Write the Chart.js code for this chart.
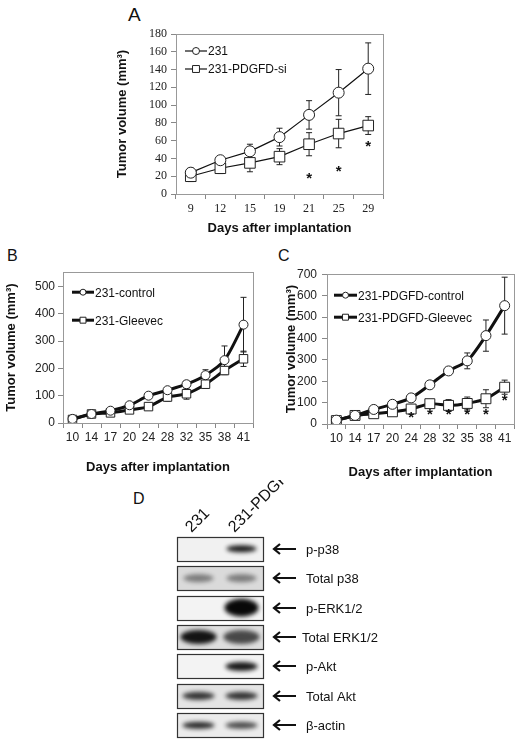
<!DOCTYPE html>
<html>
<head>
<meta charset="utf-8">
<script src="https://cdn.jsdelivr.net/npm/chart.js@4.4.1/dist/chart.umd.min.js"></script>
<style>
  body { margin: 0; background: #fff; }
  #wrap { position: relative; width: 522px; height: 745px; overflow: hidden; font-family: 'Liberation Sans', Arial, sans-serif; }
  canvas { position: absolute; }
  .lbl { position: absolute; line-height: 1; color: #111; }
</style>
</head>
<body>
<div id="wrap">
  <div class="lbl" style="left:128px;top:5px;font-size:19px">A</div>
  <div class="lbl" style="left:7px;top:248px;font-size:16px">B</div>
  <div class="lbl" style="left:278px;top:248px;font-size:16px">C</div>
  <div class="lbl" style="left:133px;top:491px;font-size:16px">D</div>
  <canvas id="chartA" width="300" height="225" style="left:95px;top:20px"></canvas>
  <canvas id="chartB" width="262" height="218" style="left:0px;top:262px"></canvas>
  <canvas id="chartC" width="260" height="218" style="left:262px;top:262px"></canvas>
  <canvas id="chartD" width="300" height="265" style="left:170px;top:480px"></canvas>
</div>
<script>
// ---- panel A ----
const daysA = ['9', '12', '15', '19', '21', '25', '29'];
const volA231 = [24, 38, 48, 64, 89, 114, 141];
const errA231 = [5, 4, 8, 10, 16, 26, 29];
const volASi = [20, 29, 35, 42, 56, 68, 77];
const errASi = [6, 6, 10, 9, 13, 16, 10];
const starsA = [['21', 20], ['25', 28], ['29', 56]];

// ---- panels B and C ----
const daysBC = ['10', '14', '17', '20', '24', '28', '32', '35', '38', '41'];
const volBControl = [15, 33, 45, 65, 100, 120, 142, 175, 230, 360];
const errBControl = [5, 6, 8, 8, 8, 10, 12, 20, 52, 100];
const volBGleevec = [13, 33, 37, 48, 60, 95, 107, 142, 192, 235];
const errBGleevec = [5, 5, 8, 10, 6, 15, 20, 15, 15, 28];

const volCControl = [18, 40, 68, 92, 122, 183, 248, 295, 413, 553];
const errCControl = [5, 6, 8, 8, 8, 10, 10, 37, 73, 133];
const volCGleevec = [16, 40, 48, 57, 70, 95, 87, 96, 118, 172];
const errCGleevec = [5, 5, 8, 10, 12, 12, 27, 30, 42, 33];
const starsC = [['24', 42], ['28', 55], ['32', 55], ['35', 55], ['38', 55], ['41', 120]];

// ---- panel D (western blot, relative band intensity 0..1) ----
const blotRows = ['p-p38', 'Total p38', 'p-ERK1/2', 'Total ERK1/2', 'p-Akt', 'Total Akt', 'β-actin'];
const laneLabels = ['231', '231-PDGFD'];
const band231 = [0, 0.45, 0, 0.95, 0, 0.8, 0.85];
const bandPDGFD = [0.92, 0.45, 1.0, 0.7, 0.92, 0.8, 0.7];

const sans = "'Liberation Sans', Arial, sans-serif";

// error bars drawn under the markers
const errorBars = {
  id: 'errorBars',
  beforeDatasetsDraw(chart, args, opts) {
    const {ctx} = chart;
    const y = chart.scales.y;
    chart.data.datasets.forEach((ds, i) => {
      if (!ds.err) return;
      const meta = chart.getDatasetMeta(i);
      ctx.save();
      ctx.strokeStyle = opts.color || '#222';
      ctx.lineWidth = opts.width || 1;
      meta.data.forEach((pt, j) => {
        const v = ds.data[j], e = ds.err[j];
        const y1 = y.getPixelForValue(v + e);
        const y2 = y.getPixelForValue(Math.max(v - e, 0));
        const c = opts.cap || 3;
        ctx.beginPath();
        ctx.moveTo(pt.x, y1); ctx.lineTo(pt.x, y2);
        ctx.moveTo(pt.x - c, y1); ctx.lineTo(pt.x + c, y1);
        ctx.moveTo(pt.x - c, y2); ctx.lineTo(pt.x + c, y2);
        ctx.stroke();
      });
      ctx.restore();
    });
  }
};

// plot frame
const frame = {
  id: 'frame',
  beforeDatasetsDraw(chart, args, opts) {
    const {ctx, chartArea: a} = chart;
    ctx.save();
    ctx.strokeStyle = opts.color || '#999';
    ctx.lineWidth = 1;
    ctx.strokeRect(Math.round(a.left) + 0.5, Math.round(a.top) + 0.5,
      Math.round(a.right - a.left), Math.round(a.bottom - a.top));
    ctx.restore();
  }
};

// significance asterisks
const stars = {
  id: 'stars',
  afterDatasetsDraw(chart, args, opts) {
    if (!opts.points) return;
    const {ctx} = chart;
    const x = chart.scales.x, y = chart.scales.y;
    ctx.save();
    ctx.fillStyle = '#111';
    ctx.font = opts.font || 'bold 15px ' + sans;
    ctx.textAlign = 'center';
    ctx.textBaseline = 'middle';
    opts.points.forEach(([lab, v]) => {
      ctx.fillText('*', x.getPixelForValue(lab), y.getPixelForValue(v) + 3);
    });
    ctx.restore();
  }
};

// legend drawn inside the plot
const inLegend = {
  id: 'inLegend',
  afterDraw(chart, args, opts) {
    const {ctx, chartArea: a} = chart;
    ctx.save();
    chart.data.datasets.forEach((ds, i) => {
      const yy = a.top + opts.y + i * opts.dy;
      const x0 = a.left + opts.x;
      ctx.strokeStyle = ds.borderColor;
      ctx.lineWidth = ds.borderWidth;
      ctx.beginPath(); ctx.moveTo(x0, yy); ctx.lineTo(x0 + opts.len, yy); ctx.stroke();
      ctx.fillStyle = '#fff';
      ctx.strokeStyle = ds.pointBorderColor;
      ctx.lineWidth = 1;
      Chart.helpers.drawPoint(ctx, {pointStyle: ds.pointStyle, rotation: 0,
        radius: ds.pointStyle === 'rect' ? opts.r * 1.4 : opts.r, borderWidth: 1}, x0 + opts.len / 2, yy);
      ctx.fillStyle = '#111';
      ctx.font = opts.font;
      ctx.textBaseline = 'middle';
      ctx.fillText(ds.label, x0 + opts.len + 1, yy + 1);
    });
    ctx.restore();
  }
};

function series(label, data, err, style, r, lw, tension) {
  return {
    label, data, err,
    borderColor: '#111', borderWidth: lw, tension,
    pointStyle: style, pointRadius: r, pointBackgroundColor: '#fff',
    pointBorderColor: '#222', pointBorderWidth: 1
  };
}

function growthChart(id, cfg) {
  return new Chart(document.getElementById(id), {
    type: 'line',
    data: {labels: cfg.labels, datasets: cfg.datasets},
    plugins: [frame, errorBars, stars, inLegend],
    options: {
      responsive: false, animation: false, devicePixelRatio: 1,
      layout: {padding: cfg.pad},
      plugins: {
        legend: {display: false}, tooltip: {enabled: false},
        errorBars: {color: '#222', width: 1, cap: cfg.cap},
        stars: {points: cfg.stars},
        inLegend: cfg.legend
      },
      scales: {
        x: {
          offset: true,
          grid: {offset: true, drawOnChartArea: false, tickLength: 5, color: '#888'},
          border: {color: '#888'},
          ticks: {font: cfg.tickFont, color: '#222', padding: cfg.xTickPad, maxRotation: 0, autoSkip: false},
          title: {display: true, text: 'Days after implantation', color: '#111',
            font: {family: sans, size: 13, weight: 'bold'}, padding: {top: 0, bottom: cfg.xTitlePad}},
          afterFit(s) { s.height = cfg.xH; }
        },
        y: {
          min: 0, max: cfg.yMax,
          grid: {drawOnChartArea: false, tickLength: 5, color: '#888'},
          border: {color: '#888'},
          ticks: {stepSize: cfg.step, font: cfg.tickFont, color: '#222', padding: cfg.yTickPad},
          afterBuildTicks(s) { s.ticks = s.ticks.filter(t => t.value % cfg.step === 0); },
          title: {display: true, text: 'Tumor volume (mm³)', color: '#111',
            font: {family: sans, size: 13, weight: 'bold'}, padding: {top: cfg.yTitlePad, bottom: 0}},
          afterFit(s) { s.width = cfg.yW; }
        }
      }
    }
  });
}

growthChart('chartA', {
  labels: daysA,
  datasets: [
    series('231', volA231, errA231, 'circle', 5.5, 1.2, 0),
    series('231-PDGFD-si', volASi, errASi, 'rect', 7.5, 1.2, 0)
  ],
  pad: {left: 0, top: 14, right: 12, bottom: 0},
  yW: 81, xH: 51, yMax: 180, step: 20, cap: 3,
  tickFont: {family: "'Liberation Serif', 'Times New Roman', serif", size: 12},
  xTickPad: 3, yTickPad: 4, xTitlePad: 9, yTitlePad: 20,
  stars: starsA,
  legend: {x: 9, y: 17, dy: 18, len: 22, r: 3.5, font: '12px ' + sans}
});

growthChart('chartB', {
  labels: daysBC,
  datasets: [
    series('231-control', volBControl, errBControl, 'circle', 4.5, 3, 0.25),
    series('231-Gleevec', volBGleevec, errBGleevec, 'rect', 6, 3, 0.25)
  ],
  pad: {left: 0, top: 3, right: 9, bottom: 0},
  yW: 63, xH: 57, yMax: 552, step: 100, cap: 3,
  tickFont: {family: sans, size: 12},
  xTickPad: 2, yTickPad: 3, xTitlePad: 5, yTitlePad: 4,
  stars: null,
  legend: {x: 9, y: 20, dy: 28, len: 22, r: 3, font: '12px ' + sans}
});

growthChart('chartC', {
  labels: daysBC,
  datasets: [
    series('231-PDGFD-control', volCControl, errCControl, 'circle', 5, 3, 0.25),
    series('231-PDGFD-Gleevec', volCGleevec, errCGleevec, 'rect', 7, 3, 0.25)
  ],
  pad: {left: 0, top: 3, right: 5, bottom: 0},
  yW: 65, xH: 56, yMax: 700, step: 100, cap: 3,
  tickFont: {family: sans, size: 12},
  xTickPad: 2, yTickPad: 5, xTitlePad: 0, yTitlePad: 22,
  stars: starsC,
  legend: {x: 7, y: 21, dy: 22, len: 23, r: 3, font: '12px ' + sans}
});

// ---- blot panel ----
const bandH = [7, 8, 18, 14, 9, 8, 7];
const bandW = [30, 30, 34, 36, 32, 32, 32];
const rowBg = ['#f1f1f1', '#dadada', '#f3f3f3', '#dedede', '#f3f3f3', '#e4e4e4', '#ebebeb'];

function bandImage(k, row) {
  const c = document.createElement('canvas');
  c.width = 50; c.height = bandH[row] + 14;
  const g = c.getContext('2d');
  g.filter = 'blur(2px)';
  g.fillStyle = 'rgba(8,8,8,' + k + ')';
  g.beginPath();
  g.ellipse(25, c.height / 2, bandW[row] / 2, bandH[row] / 2, 0, 0, Math.PI * 2);
  g.fill();
  return c;
}

const bandPts = [], bandStyles = [];
[band231, bandPDGFD].forEach((lane, li) => {
  lane.forEach((k, ri) => {
    if (k <= 0) return;
    bandPts.push({x: li + 1, y: ri});
    bandStyles.push(bandImage(k, ri));
  });
});

const blotFrame = {
  id: 'blotFrame',
  beforeDatasetsDraw(chart) {
    const {ctx, chartArea: a} = chart;
    const y = chart.scales.y;
    ctx.save();
    blotRows.forEach((r, i) => {
      const cy = y.getPixelForValue(i);
      ctx.fillStyle = rowBg[i];
      ctx.fillRect(a.left, cy - 12, a.right - a.left, 24);
    });
    ctx.restore();
  },
  afterDraw(chart) {
    const {ctx, chartArea: a} = chart;
    const x = chart.scales.x, y = chart.scales.y;
    ctx.save();
    ctx.strokeStyle = '#333';
    ctx.lineWidth = 1.2;
    ctx.fillStyle = '#111';
    ctx.font = '13px ' + sans;
    ctx.textBaseline = 'middle';
    blotRows.forEach((r, i) => {
      const cy = Math.round(y.getPixelForValue(i));
      ctx.strokeRect(Math.round(a.left) + 0.5, cy - 12 + 0.5, Math.round(a.right - a.left), 24);
      // arrow
      ctx.save();
      ctx.lineWidth = 2.2;
      ctx.strokeStyle = '#111';
      ctx.beginPath();
      ctx.moveTo(a.right + 11, cy); ctx.lineTo(a.right + 33, cy);
      ctx.moveTo(a.right + 17, cy - 5); ctx.lineTo(a.right + 11, cy); ctx.lineTo(a.right + 17, cy + 5);
      ctx.stroke();
      ctx.restore();
      ctx.fillText(r, a.right + (r === 'Total ERK1/2' ? 39 : 43), cy + 1);
    });
    ctx.font = '16px ' + sans;
    ctx.textBaseline = 'alphabetic';
    laneLabels.forEach((t, i) => {
      ctx.save();
      ctx.translate(x.getPixelForValue(i + 1) - 7, a.top - 1);
      ctx.rotate(-Math.PI / 4);
      ctx.fillText(t, 0, 0);
      ctx.restore();
    });
    ctx.restore();
  }
};

new Chart(document.getElementById('chartD'), {
  type: 'scatter',
  data: {datasets: [{data: bandPts, pointStyle: bandStyles, pointRadius: 3}]},
  plugins: [blotFrame],
  options: {
    responsive: false, animation: false, devicePixelRatio: 1,
    layout: {padding: {left: 7, top: 54, right: 207, bottom: 4}},
    plugins: {legend: {display: false}, tooltip: {enabled: false}},
    scales: {
      x: {type: 'linear', min: 0.5, max: 2.5, display: false},
      y: {type: 'linear', min: -0.5, max: 6.5, reverse: true, display: false}
    }
  }
});
</script>
</body>
</html>
